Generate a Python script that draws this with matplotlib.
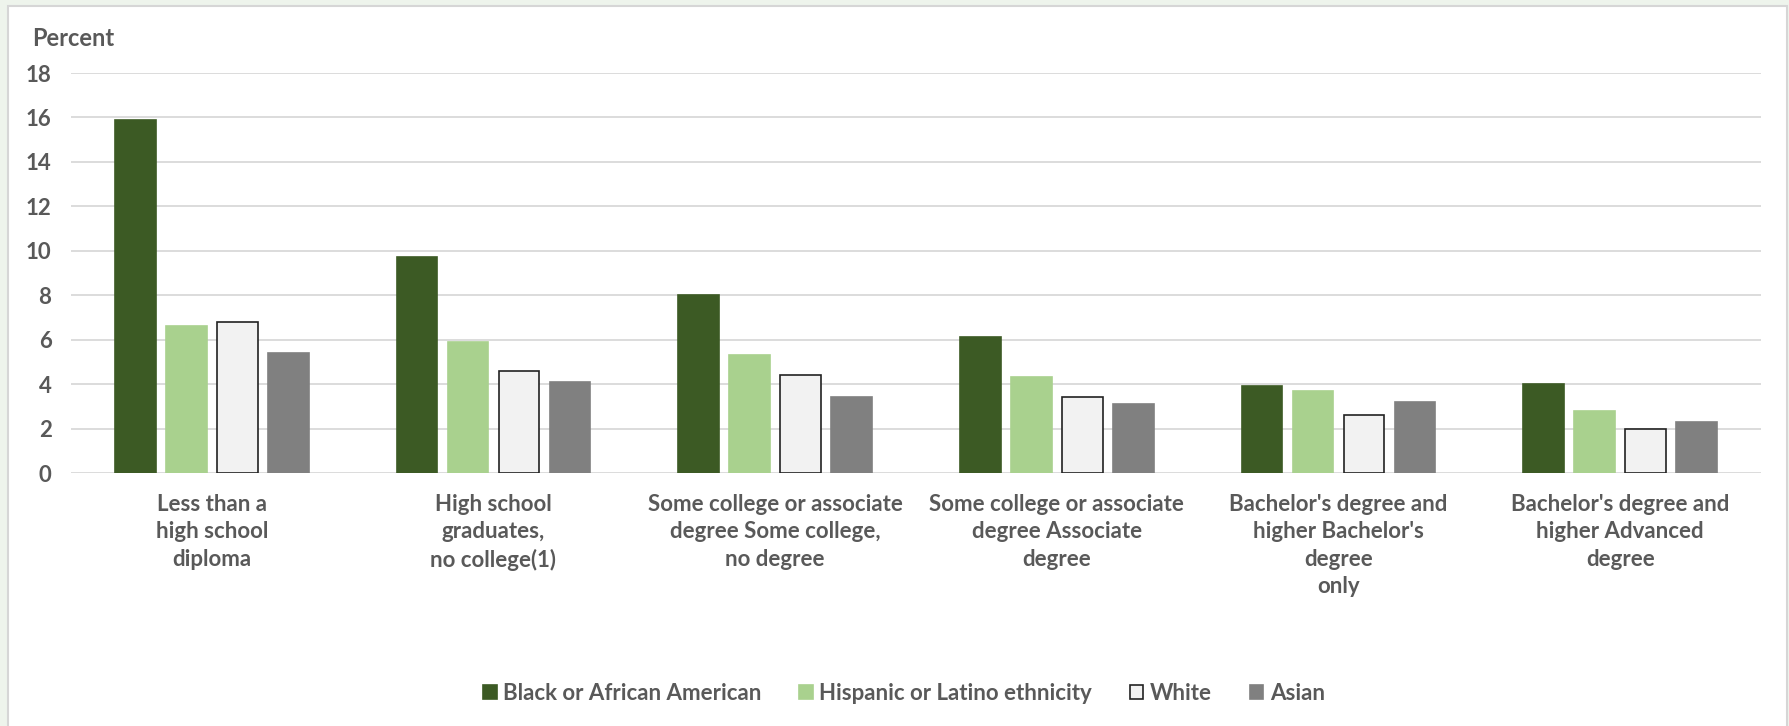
import matplotlib.pyplot as plt
import matplotlib.patches as mpatches
import numpy as np

plt.rcParams['font.family'] = ['Lato', 'DejaVu Sans']

# Data
categories = [
    'Less than a\nhigh school\ndiploma',
    'High school\ngraduates,\nno college(1)',
    'Some college or associate\ndegree Some college,\nno degree',
    'Some college or associate\ndegree Associate\ndegree',
    "Bachelor's degree and\nhigher Bachelor's\ndegree\nonly",
    "Bachelor's degree and\nhigher Advanced\ndegree",
]
series = ['Black or African American', 'Hispanic or Latino ethnicity', 'White', 'Asian']
black = [15.9, 9.7, 8.0, 6.1, 3.9, 4.0]
hispanic = [6.6, 5.9, 5.3, 4.3, 3.7, 2.8]
white = [6.8, 4.6, 4.4, 3.4, 2.6, 2.0]
asian = [5.4, 4.1, 3.4, 3.1, 3.2, 2.3]
yticks = [0, 2, 4, 6, 8, 10, 12, 14, 16, 18]

colors = ['#3C5A24', '#A9D18E', '#F2F2F2', '#808080']
edges = ['#3C5A24', '#A9D18E', '#222222', '#808080']
text_color = '#595959'

W, H = 1789, 726
fig = plt.figure(figsize=(W / 100, H / 100), dpi=100, facecolor='#EEF4EC')

# white chart panel with thin border
panel = mpatches.Rectangle((8 / W, -0.01), (1787 - 8) / W, 1 - 6 / H + 0.01,
                           transform=fig.transFigure, facecolor='white',
                           edgecolor='#D6D6D6', linewidth=1.5, zorder=-10)
fig.patches.append(panel)

ax = fig.add_axes([71 / W, 1 - 473 / H, (1761 - 71) / W, (473 - 73) / H])
ax.set_facecolor('none')
ax.set_zorder(5)

x = np.arange(len(categories))
pitch = 0.181
width = 0.145
for i, (vals, name) in enumerate(zip([black, hispanic, white, asian], series)):
    ax.bar(x + (i - 1.5) * pitch, vals, width, color=colors[i], edgecolor=edges[i],
           linewidth=1.2, label=name, zorder=3)

ax.set_xlim(-0.5, len(categories) - 0.5)
ax.set_ylim(0, 18)
ax.set_yticks(yticks)
ax.yaxis.grid(True, color='#D9D9D9', linewidth=1.3, zorder=0)
ax.set_axisbelow(True)
for s in ax.spines.values():
    s.set_visible(False)
ax.tick_params(axis='both', length=0, labelcolor=text_color)
ax.tick_params(axis='y', labelsize=16, pad=14)
for lab in ax.get_yticklabels():
    lab.set_fontweight('bold')
ax.set_xticks(x)
ax.set_xticklabels(categories, fontsize=16, fontweight='bold', linespacing=1.38)
ax.tick_params(axis='x', pad=15)

fig.text(32 / W, 1 - 39 / H, 'Percent', fontsize=17, fontweight='bold',
         color=text_color, ha='left', va='center')

leg = fig.legend(loc='center', bbox_to_anchor=(904 / W, 1 - 693 / H), ncol=4,
                 frameon=False, fontsize=16, handlelength=0.6, handleheight=0.6,
                 handletextpad=0.3, columnspacing=1.7)
for t in leg.get_texts():
    t.set_color(text_color)
    t.set_fontweight('bold')

fig.savefig('out.png', dpi=100, facecolor=fig.get_facecolor())
